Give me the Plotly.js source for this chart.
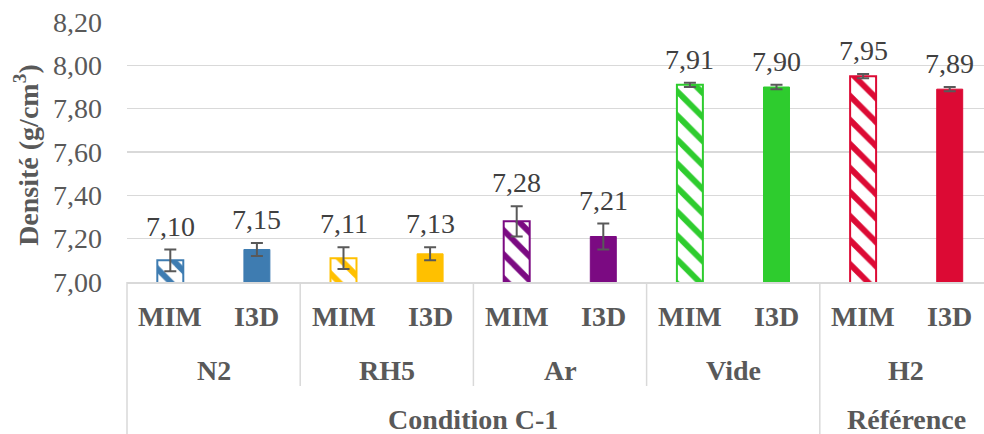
<!DOCTYPE html>
<html>
<head>
<meta charset="utf-8">
<script src="https://cdn.plot.ly/plotly-3.0.1.min.js"></script>
<style>html,body{margin:0;padding:0;background:#fff;}#chart{width:984px;height:434px;}
#chart text{font-family:'Liberation Serif' !important;}</style>
</head>
<body>
<div id="chart"></div>
<script>
// ---- data ----
var groups = ['N2', 'RH5', 'Ar', 'Vide', 'H2'];
var conditions = ['Condition C-1', 'Référence'];
var conditionSpan = [4, 1]; // number of groups per condition
var methods = ['MIM', 'I3D'];
var mimValues = [7.10, 7.11, 7.28, 7.91, 7.95];
var i3dValues = [7.15, 7.13, 7.21, 7.90, 7.89];
var mimErrors = [0.05, 0.05, 0.07, 0.01, 0.01];
var i3dErrors = [0.03, 0.03, 0.06, 0.01, 0.01];
var groupColors = ['#3E7CB1', '#FFC000', '#7B0A82', '#2ECC2E', '#DC0A34'];
var yTicks = [7.00, 7.20, 7.40, 7.60, 7.80, 8.00, 8.20];

// ---- build ----
var cats = [];
groups.forEach(function (g) { methods.forEach(function (m) { cats.push(g + ' ' + m); }); });
var mimX = groups.map(function (g) { return g + ' ' + methods[0]; });
var i3dX = groups.map(function (g) { return g + ' ' + methods[1]; });

var xr0 = -0.5, xr1 = 9.396;
function xPaper(b) { return (b - xr0) / (xr1 - xr0); }

var axisGrey = '#D9D9D9';
var labelGrey = '#595959';
var fontFam = 'Liberation Serif';

var traces = [
  {
    type: 'bar', name: methods[0], x: mimX, y: mimValues, width: 0.3,
    marker: {
      color: 'white',
      line: {color: groupColors, width: 2},
      pattern: {shape: '\\', fgcolor: groupColors, bgcolor: 'white', fgopacity: 1, size: 17, solidity: 0.35, fillmode: 'overlay'}
    },
    error_y: {type: 'data', array: mimErrors, visible: true, color: '#595959', thickness: 2, width: 6},
    hoverinfo: 'skip'
  },
  {
    type: 'bar', name: methods[1], x: i3dX, y: i3dValues, width: 0.3,
    marker: {color: groupColors, line: {color: groupColors, width: 1}},
    error_y: {type: 'data', array: i3dErrors, visible: true, color: '#595959', thickness: 2, width: 6},
    hoverinfo: 'skip'
  }
];

function fmt(v) { return v.toFixed(2).replace('.', ','); }

var annotations = [];
var labelFont = {family: fontFam, size: 28, color: '#404040'};
groups.forEach(function (g, i) {
  annotations.push({xref: 'x', yref: 'y', x: 2 * i, y: mimValues[i] + mimErrors[i], text: fmt(mimValues[i]),
    showarrow: false, yanchor: 'bottom', yshift: 6, font: labelFont});
  annotations.push({xref: 'x', yref: 'y', x: 2 * i + 1, y: i3dValues[i] + i3dErrors[i], text: fmt(i3dValues[i]),
    showarrow: false, yanchor: 'bottom', yshift: 6, font: labelFont});
});
var boldFont = {family: fontFam, size: 28, color: labelGrey, weight: 'bold'};
cats.forEach(function (c, i) {
  annotations.push({xref: 'x', yref: 'paper', x: i, y: -0.131, text: '<b>' + methods[i % 2] + '</b>', showarrow: false,
    xanchor: 'center', yanchor: 'middle', font: boldFont});
});
groups.forEach(function (g, i) {
  annotations.push({xref: 'x', yref: 'paper', x: 2 * i + 0.5, y: -0.339, text: '<b>' + g + '</b>', showarrow: false,
    xanchor: 'center', yanchor: 'middle', font: boldFont});
});
var shapes = [];
var startGroup = 0;
conditions.forEach(function (c, k) {
  var n = conditionSpan[k];
  var center = (2 * startGroup + 2 * (startGroup + n) - 1) / 2;
  annotations.push({xref: 'x', yref: 'paper', x: center, y: -0.53, text: '<b>' + c + '</b>', showarrow: false,
    xanchor: 'center', yanchor: 'middle', font: boldFont});
  var b = 2 * startGroup - 0.5;
  shapes.push({type: 'line', xref: 'paper', yref: 'paper', x0: xPaper(b), x1: xPaper(b), y0: 0, y1: -0.6,
    line: {color: axisGrey, width: 1.5}});
  startGroup += n;
});
for (var gi = 1; gi < groups.length; gi++) {
  var isCondBoundary = false, acc = 0;
  conditionSpan.forEach(function (n) { acc += n; if (acc === gi) isCondBoundary = true; });
  if (isCondBoundary) continue;
  var bb = 2 * gi - 0.5;
  shapes.push({type: 'line', xref: 'paper', yref: 'paper', x0: xPaper(bb), x1: xPaper(bb), y0: 0, y1: -0.4,
    line: {color: axisGrey, width: 1.5}});
}
annotations.push({xref: 'paper', yref: 'paper', x: -100 / 857, y: 0.489, text: '<b>Densité (g/cm<sup>3</sup>)</b>',
  textangle: -90, showarrow: false, xanchor: 'center', yanchor: 'middle',
  font: {family: fontFam, size: 28, color: labelGrey, weight: 'bold'}});

var layout = {
  width: 984, height: 434,
  margin: {l: 127, r: 0, t: 22, b: 152, pad: 0},
  paper_bgcolor: 'white', plot_bgcolor: 'white',
  font: {family: fontFam},
  separators: ', ',
  barmode: 'overlay',
  showlegend: false,
  xaxis: {
    type: 'category', categoryorder: 'array', categoryarray: cats,
    range: [xr0, xr1], showticklabels: false, ticks: '', showgrid: false,
    showline: true, linecolor: axisGrey, linewidth: 1.5, zeroline: false, fixedrange: true
  },
  yaxis: {
    range: [7.0, 8.2], tickvals: yTicks, tickformat: '.2f',
    showgrid: true, gridcolor: axisGrey, gridwidth: 1.5, zeroline: false, showline: false,
    ticks: '', ticklabelstandoff: 24,
    tickfont: {family: fontFam, size: 28, color: labelGrey}, fixedrange: true
  },
  annotations: annotations,
  shapes: shapes
};

Plotly.newPlot('chart', traces, layout, {displayModeBar: false, staticPlot: true});
</script>
</body>
</html>
